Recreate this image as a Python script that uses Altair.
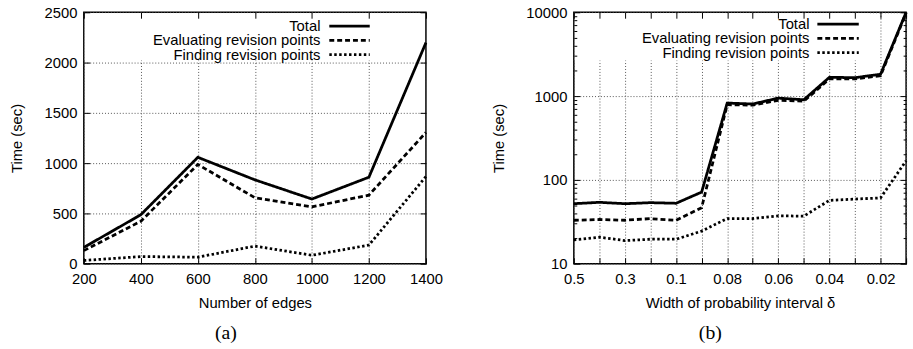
import altair as alt
import pandas as pd

# ---------------- data ----------------
edges = [200, 400, 600, 800, 1000, 1200, 1400]
edges_total = [162, 487, 1058, 834, 643, 860, 2198]
edges_eval = [130, 422, 987, 656, 565, 682, 1305]
edges_find = [32, 71, 65, 175, 84, 185, 867]

deltas = ['0.5', '0.4', '0.3', '0.2', '0.1', '0.09', '0.08', '0.07',
          '0.06', '0.05', '0.04', '0.03', '0.02', '0.01']
delta_total = [52, 54, 52, 53.5, 52.6, 71.5, 826, 805, 946, 905, 1675, 1660, 1820, 10000]
delta_eval = [33, 33.7, 33, 34.5, 33, 46.6, 790, 780, 890, 870, 1600, 1600, 1750, 9800]
delta_find = [19.2, 20.7, 18.9, 19.6, 19.6, 24.5, 34.6, 34.6, 37.2, 37, 57, 59, 61, 169]
delta_tick_labels = ['0.5', '0.3', '0.1', '0.08', '0.06', '0.04', '0.02']

left_y_ticks = [0, 500, 1000, 1500, 2000, 2500]
right_y_ticks = [10, 100, 1000, 10000]
right_y_minor = [20, 30, 40, 50, 60, 70, 80, 90,
                 200, 300, 400, 500, 600, 700, 800, 900,
                 2000, 3000, 4000, 5000, 6000, 7000, 8000, 9000]

series = ['Total', 'Evaluating revision points', 'Finding revision points']
dashes = [[1, 0], [5, 3], [2.5, 2.5]]

FONT = 'Liberation Sans'
LW = 2.8

left_df = pd.DataFrame({
    'edges': edges * 3,
    'time': edges_total + edges_eval + edges_find,
    'series': [s for s in series for _ in edges],
})
right_df = pd.DataFrame({
    'delta': deltas * 3,
    'time': delta_total + delta_eval + delta_find,
    'series': [s for s in series for _ in deltas],
})

grid_kw = dict(gridDash=[1, 2], gridColor='#555', gridWidth=1, gridOpacity=1)


def tick_axis(orient, offset, size, values):
    return alt.Axis(orient=orient, offset=offset, labels=False, domain=False,
                    grid=False, title=None, ticks=True, tickSize=size,
                    tickColor='black', tickWidth=1, values=values, zindex=1)


def legend_layers(text_x, line_x1, line_x2, y0):
    out = []
    for i, s in enumerate(series):
        d = pd.DataFrame({'label': [s]})
        yy = y0 + 14.5 * i
        out.append(alt.Chart(d).mark_text(align='right', baseline='middle', font=FONT,
                                          fontSize=15, color='black')
                   .encode(x=alt.value(text_x), y=alt.value(yy), text='label:N'))
        out.append(alt.Chart(d).mark_rule(color='black', strokeWidth=LW,
                                          strokeDash=dashes[i], strokeCap='butt')
                   .encode(x=alt.value(line_x1), x2=alt.value(line_x2), y=alt.value(yy)))
    return out


dash_enc = alt.StrokeDash('series:N', scale=alt.Scale(domain=series, range=dashes), legend=None)

# ---------------- left panel ----------------
W1, H1 = 347, 255


def xl(axis):
    return alt.X('edges:Q', scale=alt.Scale(domain=[200, 1400], nice=False, zero=False), axis=axis)


def yl(axis):
    return alt.Y('time:Q', scale=alt.Scale(domain=[0, 2500], nice=False), axis=axis)


lbase = alt.Chart(left_df)
l_box = alt.Chart(pd.DataFrame({'a': [0]})).mark_rect(color='white').encode(
    x=alt.value(1), x2=alt.value(W1 - 1), y=alt.value(1), y2=alt.value(49))
l_lines = lbase.mark_line(color='black', strokeWidth=LW, strokeCap='butt').encode(
    x=xl(alt.Axis(orient='bottom', values=edges, format='d', title='Number of edges',
                  grid=True, ticks=False, domain=False, labelPadding=8, titlePadding=9,
                  labelFlush=False, **grid_kw)),
    y=yl(alt.Axis(orient='left', values=left_y_ticks, format='d', title='Time (sec)',
                  grid=True, ticks=False, domain=False, labelPadding=7, titlePadding=20,
                  **grid_kw)),
    strokeDash=dash_enc, detail='series:N')
l_m1 = lbase.mark_line(strokeOpacity=0).encode(
    x=xl(tick_axis('top', -H1, 6, edges)), y=yl(tick_axis('right', -W1, 6, left_y_ticks)),
    detail='series:N')
l_m2 = lbase.mark_line(strokeOpacity=0).encode(
    x=xl(tick_axis('bottom', -H1, 6, edges)), y=yl(tick_axis('left', -W1, 6, left_y_ticks)),
    detail='series:N')

left = alt.layer(l_box, l_lines, l_m1, l_m2, *legend_layers(240, 249, 290, 14)).resolve_axis(
    x='independent', y='independent').properties(
    width=W1, height=H1,
    title=alt.TitleParams('(a)', orient='bottom', anchor='middle', frame='bounds',
                          font='Liberation Serif', fontSize=20, fontWeight='normal',
                          color='black', offset=13))

# ---------------- right panel ----------------
W2, H2 = 337, 255

label_expr = "indexof(" + str(delta_tick_labels) + ", datum.value) >= 0 ? datum.value : ''"


def xr(axis):
    return alt.X('delta:N', sort=deltas, scale=alt.Scale(type='point', domain=deltas, padding=0),
                 axis=axis)


def yr(axis):
    return alt.Y('time:Q', scale=alt.Scale(type='log', domain=[10, 10000], nice=False), axis=axis)


rbase = alt.Chart(right_df)
r_box = alt.Chart(pd.DataFrame({'a': [0]})).mark_rect(color='white').encode(
    x=alt.value(1), x2=alt.value(299), y=alt.value(1), y2=alt.value(49))
r_lines = rbase.mark_line(color='black', strokeWidth=LW, strokeCap='butt').encode(
    x=xr(alt.Axis(orient='bottom', values=deltas, labelExpr=label_expr,
                  title='Width of probability interval δ', labelAngle=0,
                  grid=True, ticks=False, domain=False, labelPadding=8, titlePadding=9,
                  labelOverlap=False, **grid_kw)),
    y=yr(alt.Axis(orient='left', values=right_y_ticks, format='d', title='Time (sec)',
                  grid=True, ticks=False, domain=False, labelPadding=7, titlePadding=20,
                  labelOverlap=False, **grid_kw)),
    strokeDash=dash_enc, detail='series:N')
r_m1 = rbase.mark_line(strokeOpacity=0).encode(
    x=xr(tick_axis('top', -H2, 6, deltas)), y=yr(tick_axis('right', -W2, 6, right_y_ticks)),
    detail='series:N')
r_m2 = rbase.mark_line(strokeOpacity=0).encode(
    x=xr(tick_axis('bottom', -H2, 6, deltas)), y=yr(tick_axis('left', -W2, 6, right_y_ticks)),
    detail='series:N')
r_m3 = rbase.mark_line(strokeOpacity=0).encode(
    x=xr(None), y=yr(tick_axis('right', -W2, 3, right_y_minor)), detail='series:N')
r_m4 = rbase.mark_line(strokeOpacity=0).encode(
    x=xr(None), y=yr(tick_axis('left', -W2, 3, right_y_minor)), detail='series:N')

right = alt.layer(r_box, r_lines, r_m1, r_m2, r_m3, r_m4,
                  *legend_layers(239, 247, 289, 12)).resolve_axis(
    x='independent', y='independent').properties(
    width=W2, height=H2,
    title=alt.TitleParams('(b)', orient='bottom', anchor='middle', frame='bounds',
                          font='Liberation Serif', fontSize=20, fontWeight='normal',
                          color='black', offset=13, dx=9))

chart = alt.hconcat(left, right, spacing=47).configure(
    padding={'left': 8, 'top': 2, 'right': 0, 'bottom': 0},
    background='white'
).configure_view(stroke='black', strokeWidth=1.5).configure_axis(
    labelFont=FONT, labelFontSize=15, labelColor='black',
    titleFont=FONT, titleFontSize=15, titleFontWeight='normal', titleColor='black')

chart.save('out.html', embed_options={'renderer': 'svg', 'actions': False})
